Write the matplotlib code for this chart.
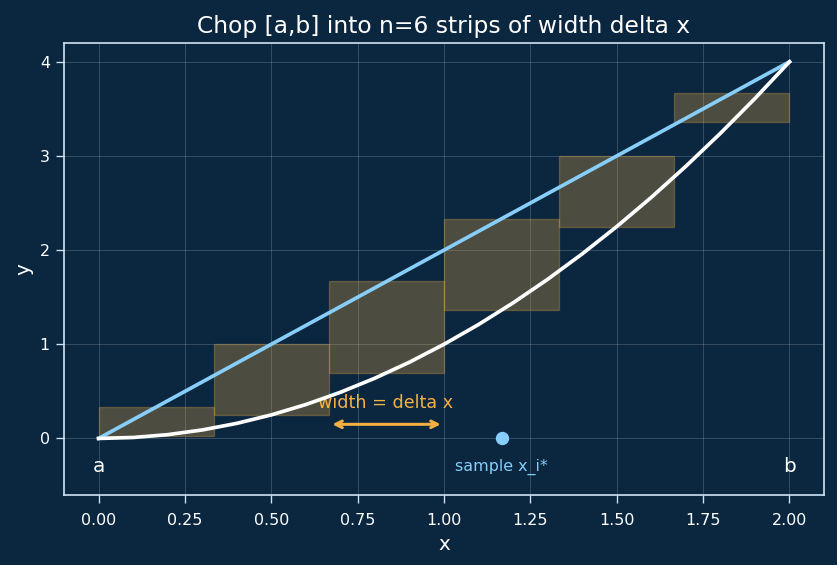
import matplotlib
matplotlib.use('Agg')
import matplotlib.pyplot as plt

# 曲线数据
curve_x = [0.0, 0.1, 0.2, 0.3, 0.4, 0.5, 0.6, 0.7, 0.8, 0.9, 1.0,
           1.1, 1.2, 1.3, 1.4, 1.5, 1.6, 1.7, 1.8, 1.9, 2.0]
lower_y = [0.0, 0.01, 0.04, 0.09, 0.16, 0.25, 0.36, 0.49, 0.64, 0.81, 1.0,
           1.21, 1.44, 1.69, 1.96, 2.25, 2.56, 2.89, 3.24, 3.61, 4.0]
upper_x = [0.0, 2.0]
upper_y = [0.0, 4.0]

# 条带
strip_left = [0.0, 1/3, 2/3, 1.0, 4/3, 5/3]
strip_bottom = [0.03, 0.25, 0.69, 1.36, 2.25, 3.36]
strip_top = [0.33, 1.0, 1.67, 2.33, 3.0, 3.67]
strip_width = 1/3

sample_x = 7/6

bg = '#0b2740'
blue = '#87cefa'
orange = '#f5b041'

fig, ax = plt.subplots(figsize=(837/120, 565/120), dpi=120)
fig.patch.set_facecolor(bg)
ax.set_facecolor(bg)
plt.subplots_adjust(left=0.0765, right=0.9845, top=0.924, bottom=0.124)

for l, b, t in zip(strip_left, strip_bottom, strip_top):
    ax.bar(l, t - b, width=strip_width, bottom=b, align='edge',
           facecolor=orange, alpha=0.28, edgecolor=orange, linewidth=0.8, zorder=2)

ax.plot(upper_x, upper_y, color=blue, lw=2.2, zorder=3)
ax.plot(curve_x, lower_y, color='white', lw=2.2, zorder=4)

ax.plot([sample_x], [0], 'o', color=blue, markersize=7, zorder=5)

ax.annotate('', xy=(1.0, 0.15), xytext=(0.667, 0.15),
            arrowprops=dict(arrowstyle='<->', color=orange, lw=1.8))
ax.text(0.83, 0.38, 'width = delta x', color=orange, fontsize=10.5, ha='center', va='center')
ax.text(sample_x, -0.3, 'sample x_i*', color=blue, fontsize=9.5, ha='center', va='center')
ax.text(0, -0.3, 'a', color='white', fontsize=12, ha='center', va='center')
ax.text(2, -0.3, 'b', color='white', fontsize=12, ha='center', va='center')

ax.set_xlim(-0.1, 2.1)
ax.set_ylim(-0.6, 4.2)
ax.set_xticks([0, 0.25, 0.5, 0.75, 1.0, 1.25, 1.5, 1.75, 2.0])
ax.set_yticks([0, 1, 2, 3, 4])
ax.grid(True, color='white', alpha=0.2, lw=0.5)
ax.set_axisbelow(True)

for s in ax.spines.values():
    s.set_color('#cfe3f5')
    s.set_linewidth(1.0)
ax.tick_params(colors='#cfe3f5', labelcolor='white', labelsize=9.5, length=5)
ax.tick_params(axis='x', pad=6)

ax.set_title('Chop [a,b] into n=6 strips of width delta x', color='white', fontsize=14)
ax.set_xlabel('x', color='white', fontsize=12)
ax.set_ylabel('y', color='white', fontsize=12)

plt.savefig('out.png', facecolor=bg)
plt.close()
